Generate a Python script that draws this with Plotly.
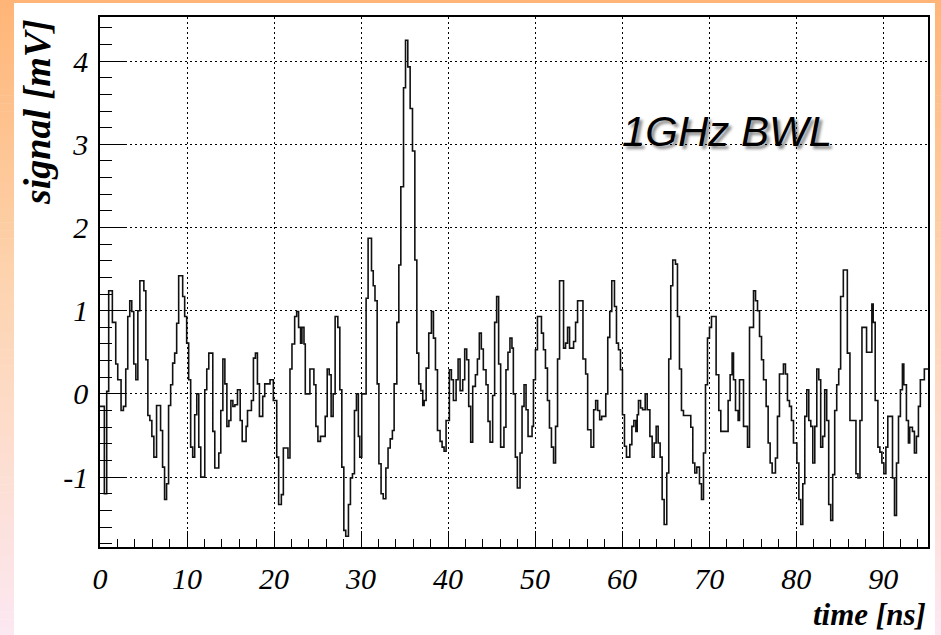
import plotly.graph_objects as go

# ---------------- data ----------------
# start time (ns) of each histogram step and its level (mV)
time_ns = [
    0.0, 0.5, 0.77, 1.0, 1.42, 1.81, 2.04, 2.42, 2.69, 2.96,
    3.19, 3.42, 3.65, 3.88, 4.12, 4.35, 4.58, 5.04, 5.27, 5.5,
    5.73, 5.96, 6.19, 6.5, 6.96, 7.19, 7.42, 7.65, 7.88, 8.12,
    8.35, 8.58, 8.81, 9.04, 9.5, 9.73, 9.96, 10.19, 10.42, 10.65,
    10.88, 11.12, 11.35, 11.58, 12.04, 12.27, 12.5, 12.96, 13.19, 13.65,
    13.88, 14.12, 14.35, 14.58, 14.81, 15.04, 15.27,
    15.5, 15.8, 16.11, 16.34, 16.79, 16.95, 17.4, 17.63, 17.86, 18.09,
    18.32, 18.7, 18.93, 19.54, 19.92, 20.31, 20.53, 20.84, 21.07, 21.6,
    21.83, 22.06, 22.37, 22.6, 22.82, 23.05, 23.21, 23.44, 23.59, 24.12,
    24.58, 24.81, 25.04, 25.34, 25.88, 26.11, 26.34, 26.56, 26.79, 27.02,
    27.33, 27.56, 27.79, 28.02, 28.24, 28.55, 28.78, 29.01, 29.24, 29.47,
    29.69, 29.85, 30.08, 30.58, 30.81,
    31.2, 31.4, 31.6, 31.85, 32.05, 32.3, 32.55, 32.85, 33.1, 33.35,
    33.6, 33.8, 34.11, 34.34, 34.57, 34.88, 35.11, 35.37, 35.64, 35.91,
    36.18, 36.41, 36.63, 36.86, 37.09, 37.25, 37.48, 37.78, 38.09, 38.32,
    38.55, 38.78, 39.08, 39.31, 39.54, 39.77, 40.15, 40.38, 40.61, 40.92,
    41.15, 41.38, 41.68, 41.91, 42.14, 42.37, 42.6, 42.83, 43.14, 43.37,
    43.59, 43.82, 44.05, 44.36, 44.59, 44.82, 45.12, 45.35, 45.58, 45.81,
    46.04, 46.42, 46.65, 46.88, 47.11, 47.34, 47.5,
    47.73, 47.96, 48.27, 48.5, 48.73, 48.96, 49.19, 49.65, 49.81, 50.04,
    50.27, 50.73, 50.96, 51.19, 51.42, 51.65, 51.88, 52.12, 52.35, 52.58,
    52.81, 53.27, 53.5, 53.73, 53.96, 54.42, 54.65, 54.88, 55.5, 55.81,
    56.04, 56.42, 56.73, 56.96, 57.19, 57.42, 57.65, 58.12, 58.35, 58.58,
    58.81, 59.12, 59.35, 59.58, 59.81, 60.04, 60.27, 60.5, 60.88, 61.12,
    61.35, 61.58, 61.73, 61.88, 62.12, 62.35, 62.65, 62.88, 63.19,
    63.45, 63.68, 63.91, 64.14, 64.37, 64.6, 64.83, 65.13, 65.36, 65.59,
    65.82, 66.13, 66.36, 66.59, 66.82, 67.05, 67.89, 68.12, 68.35, 68.58,
    68.89, 69.12, 69.35, 69.58, 69.81, 70.04, 70.27, 70.8, 71.11, 71.34,
    72.18, 72.41, 72.64, 72.8, 73.03, 73.33, 73.49, 73.95, 74.41, 74.64,
    75.1, 75.33, 75.56, 75.79, 76.02, 76.25, 76.55, 76.78, 77.01, 77.24,
    77.62, 77.85, 78.08, 78.54, 78.77, 79.0, 79.23, 79.46, 79.69,
    80.08, 80.31, 80.53, 80.76, 80.99, 81.22, 81.45, 81.68, 81.91, 82.14,
    82.37, 82.6, 82.82, 83.05, 83.28, 83.51, 83.74, 83.97, 84.2, 84.43,
    84.66, 84.89, 85.11, 85.42, 85.88, 86.18, 86.87, 87.1, 87.33, 87.56,
    88.09, 88.7, 88.85, 89.08, 89.39, 89.62, 89.85, 90.08, 90.31, 90.53,
    91.07, 91.3, 91.53, 91.76, 91.98, 92.21, 92.37, 92.67, 92.9, 93.05,
    93.36, 93.59, 93.82, 94.05, 94.27, 94.73,
]
signal_mV = [
    -0.15, -1.2, 0.03, 1.24, 0.86, 0.36, 0.17, -0.2, -0.15, 0.3,
    0.93, 1.12, 0.99, 0.36, 0.17, 1.0, 1.36, 1.24, 0.41, -0.26,
    -0.32, -0.51, -0.76, -0.14, -0.44, -0.88, -1.27, -1.08, -0.14, 0.11,
    0.37, 0.49, 0.85, 1.42, 1.17, 0.93, 0.61, 0.17, -0.64, -0.76,
    -0.25, 0.0, -0.64, -1.0, 0.05, 0.3, 0.49, -0.45, -0.89, -0.71,
    -0.2, 0.42, 0.12, -0.39, -0.32, -0.08, -0.15,
    -0.13, 0.05, -0.32, -0.57, -0.39, -0.2, -0.08, 0.43, 0.49, 0.12,
    -0.27, -0.03, 0.12, 0.17, -0.08, -0.76, -1.33, -1.21, -0.65, -0.77,
    0.3, 0.6, 0.93, 0.99, 0.8, 0.61, 0.8, 0.6, 0.0, 0.3,
    0.11, -0.39, -0.57, -0.51, -0.27, 0.3, 0.23, -0.27, 0.0, 0.93,
    0.8, 0.05, -0.88, -1.64, -1.71, -1.33, -1.01, -0.96, -0.2, 0.0,
    -0.51, -0.76, 0.0, 1.15, 1.87,
    1.48, 1.30, 1.12, 0.12, -0.84, -1.2, -1.26, -0.89, -0.65, -0.54,
    -0.44, 0.12, 0.86, 1.55, 2.49, 3.68, 4.25, 3.93, 3.43, 2.92,
    1.61, 0.49, 0.12, 0.04, -0.14, -0.08, 0.31, 0.73, 0.99, 0.67,
    0.29, -0.44, -0.57, -0.64, -0.69, -0.32, 0.29, 0.17, -0.08, 0.17,
    0.42, 0.04, 0.17, 0.54, 0.41, -0.15, -0.58, 0.09, 0.23, 0.42,
    0.73, 0.54, 0.29, 0.11, -0.33, -0.58, -0.02, 0.86, 1.17, 0.36,
    -0.64, -0.4, 0.29, 0.5, 0.67, 0.55, 0.0,
    -0.76, -1.13, -0.71, -0.15, 0.11, -0.19, -0.51, -0.39, 0.17, 0.53,
    0.93, 0.73, 0.53, 0.31, -0.08, -0.41, -0.64, -0.83, -0.39, 0.42,
    1.36, 0.55, 0.61, 0.8, 0.55, 0.63, 0.86, 1.12, 0.42, 0.24,
    -0.43, -0.64, -0.19, -0.08, -0.2, -0.31, -0.27, 0.0, 0.68, 0.99,
    1.36, 1.05, 0.61, 0.53, 0.29, -0.25, -0.63, -0.76, -0.61, -0.39,
    -0.32, -0.45, -0.25, -0.08, -0.17, -0.19, 0.0, -0.19, -0.51,
    -0.76, -0.59, -0.39, -0.59, -0.76, -1.27, -1.57, -0.95, 0.42, 1.3,
    1.61, 1.56, 0.93, 0.3, -0.2, -0.26, -0.4, -0.83, -0.95, -0.88,
    -1.08, -1.27, -0.71, 0.11, 0.67, 0.8, 0.93, 0.23, -0.2, -0.45,
    -0.08, 0.23, 0.49, 0.17, -0.2, -0.32, 0.17, -0.39, -0.64, 0.8,
    1.24, 1.12, 1.0, 0.69, 0.41, 0.17, -0.15, -0.59, -0.83, -0.95,
    -0.77, -0.27, 0.24, 0.36, 0.24, -0.08, -0.15, -0.32, -0.59,
    -0.83, -1.27, -1.57, -1.08, -0.27, 0.05, -0.32, -0.39, -0.83, -0.39,
    0.3, 0.17, -0.64, -0.51, 0.05, -0.32, -1.33, -1.52, -0.97, -0.2,
    0.11, 0.3, 1.17, 1.49, 0.49, -0.32, -0.96, -1.01, -0.32, 0.8,
    0.5, 1.08, 0.86, -0.08, -0.64, -0.7, -0.83, -0.96, -0.64, -0.27,
    -1.01, -1.46, -0.83, -0.27, 0.05, 0.36, 0.11, -0.32, -0.59, -0.4,
    -0.45, -0.71, -0.51, -0.15, 0.17, 0.3,
]
time_end_ns = 95.15
assert len(time_ns) == len(signal_mV)

x_tick_values = [0, 10, 20, 30, 40, 50, 60, 70, 80, 90]
x_tick_labels = ["0", "10", "20", "30", "40", "50", "60", "70", "80", "90"]
y_tick_values = [-1, 0, 1, 2, 3, 4]
y_tick_labels = ["-1", "0", "1", "2", "3", "4"]

x_title = "time [ns]"
y_title = "signal [mV]"
label_text = "1GHz BWL"

# ---------------- layout geometry ----------------
W, H = 941, 635
ML, MR, MT, MB = 100, 13, 17, 88
PW, PH = W - ML - MR, H - MT - MB


def px_x(px):
    return (px - ML) / PW


def px_y(py):
    return (H - MB - py) / PH


fig = go.Figure()
fig.add_trace(go.Scatter(
    x=time_ns + [time_end_ns],
    y=signal_mV + [signal_mV[-1]],
    mode="lines",
    line=dict(shape="hv", color="#111111", width=1.6),
    hoverinfo="skip",
    showlegend=False,
))

# gradient frame (orange at top -> pink at bottom)
stops = [(0.0, (255, 181, 118)), (0.45, (253, 212, 176)), (1.0, (252, 232, 242))]


def grad(f):
    for (f0, c0), (f1, c1) in zip(stops[:-1], stops[1:]):
        if f <= f1:
            t = (f - f0) / (f1 - f0)
            return "rgb(%d,%d,%d)" % tuple(round(a + (b - a) * t) for a, b in zip(c0, c1))
    return "rgb(%d,%d,%d)" % stops[-1][1]


shapes = []
N = 80
for i in range(N):
    y0 = H * i / N
    y1 = H * (i + 1) / N + 0.6
    shapes.append(dict(type="rect", xref="paper", yref="paper", layer="below",
                       x0=px_x(0), x1=px_x(W), y0=px_y(y1), y1=px_y(y0),
                       fillcolor=grad((i + 0.5) / N), line=dict(width=0)))
shapes.append(dict(type="rect", xref="paper", yref="paper", layer="below",
                   x0=px_x(14), x1=px_x(935), y0=px_y(H + 2), y1=px_y(3),
                   fillcolor="white", line=dict(width=0)))

axis_font = dict(family="Liberation Serif", size=30, color="black", style="italic")
title_font = dict(family="Liberation Serif", size=31, color="black", style="italic", weight="bold")

fig.update_layout(
    width=W, height=H,
    margin=dict(l=ML, r=MR, t=MT, b=MB, pad=0),
    paper_bgcolor="white", plot_bgcolor="white",
    shapes=shapes,
    xaxis=dict(
        range=[0, time_end_ns], tickmode="array", tickvals=x_tick_values, ticktext=x_tick_labels,
        ticks="inside", ticklen=16, tickwidth=1, tickcolor="black",
        showgrid=True, gridcolor="black", griddash="2px,3px", gridwidth=1,
        showline=True, linecolor="black", linewidth=1.5, mirror=True, zeroline=False,
        minor=dict(tick0=0, dtick=2, ticks="inside", ticklen=8, tickcolor="black", tickwidth=1, showgrid=False),
        tickfont=axis_font, ticklabelstandoff=4,
    ),
    yaxis=dict(
        range=[-1.84, 4.53], tickmode="array", tickvals=y_tick_values, ticktext=y_tick_labels,
        ticks="inside", ticklen=25, tickwidth=1, tickcolor="black",
        showgrid=True, gridcolor="black", griddash="2px,3px", gridwidth=1,
        showline=True, linecolor="black", linewidth=1.5, mirror=True, zeroline=False,
        minor=dict(tick0=0, dtick=0.2, ticks="inside", ticklen=12, tickcolor="black", tickwidth=1, showgrid=False),
        tickfont=axis_font, ticklabelstandoff=4,
    ),
    annotations=[
        dict(text=label_text, x=72.1, y=3.15, xref="x", yref="y", showarrow=False,
             xanchor="center", yanchor="middle",
             font=dict(family="Liberation Sans", size=42, color="black", style="italic",
                       shadow="3px 3px 3px rgba(0,0,0,0.45)")),
        dict(text=y_title, x=px_x(37), y=1.0, xref="paper", yref="paper", showarrow=False,
             textangle=-90, xanchor="center", yanchor="top", font=dict(title_font, size=38)),
        dict(text=x_title, x=1.0, y=px_y(614), xref="paper", yref="paper", showarrow=False,
             xanchor="right", yanchor="middle", font=title_font),
    ],
)

fig.write_html("out.html")
